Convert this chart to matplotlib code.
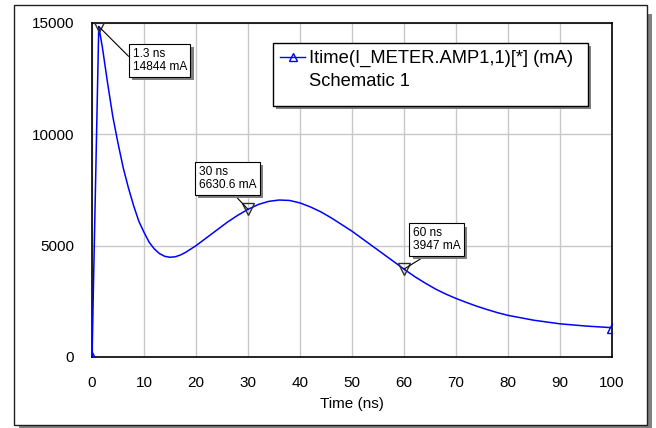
import matplotlib
matplotlib.use("Agg")
import matplotlib.pyplot as plt
import matplotlib.patheffects as pe
from matplotlib.patches import Rectangle
from matplotlib.lines import Line2D

plt.rcParams['font.family'] = ['Liberation Sans', 'DejaVu Sans']

# trace values (time in ns, current in mA)
time_ns = [0, 1.3, 2, 3, 4, 5, 6, 7, 8, 9, 10, 11, 12, 13, 14, 15, 16, 17, 18,
           20, 22, 24, 26, 28, 30, 32, 34, 36, 38, 40, 42, 44, 46, 48, 50,
           52, 54, 56, 58, 60, 62, 64, 66, 68, 70, 72, 74, 76, 78, 80,
           85, 90, 95, 100]
current_ma = [0, 14844, 13900, 12300, 10800, 9600, 8500, 7600, 6800, 6100,
              5600, 5150, 4850, 4640, 4520, 4480, 4500, 4580, 4700,
              5000, 5350, 5700, 6050, 6360, 6630.6, 6850, 6990, 7050, 7030,
              6920, 6740, 6520, 6250, 5950, 5650,
              5310, 4970, 4630, 4290, 3947, 3620, 3330, 3060, 2830, 2630,
              2450, 2280, 2130, 1990, 1870,
              1650, 1490, 1390, 1316]

cursor_t = [1.3, 30, 60]
cursor_v = [14844, 6630.6, 3947]
cursor_labels = ["1.3 ns\n14844 mA", "30 ns\n6630.6 mA", "60 ns\n3947 mA"]

x_ticks = list(range(0, 101, 10))
y_ticks = [0, 5000, 10000, 15000]

trace_label = "Itime(I_METER.AMP1,1)[*] (mA)"
schematic_label = "Schematic 1"

W, H = 656, 428
fig = plt.figure(figsize=(W / 100, H / 100), dpi=100)

# outer frame with drop shadow
fig.patches.append(Rectangle((19 / W, -0.01), 633 / W, 1 - 10 / H,
                             transform=fig.transFigure, facecolor='#808080',
                             edgecolor='none', zorder=0))
fig.patches.append(Rectangle((14 / W, 1 - 425 / H), 633 / W, 420 / H,
                             transform=fig.transFigure, facecolor='white',
                             edgecolor='#202020', lw=1, zorder=1))

ax = fig.add_axes([92 / W, 1 - 357 / H, 520 / W, 334 / H])
ax.set_zorder(2)
ax.set_xlim(0, 100)
ax.set_ylim(0, 15000)
ax.set_xticks(x_ticks)
ax.set_yticks(y_ticks)
ax.grid(True, color='#c8c8c8', lw=1)
ax.set_axisbelow(True)
ax.tick_params(length=0, labelsize=11, pad=14)
ax.tick_params(axis='y', pad=13)
for s in ax.spines.values():
    s.set_color('black')
    s.set_linewidth(1.2)
ax.set_xlabel("Time (ns)", fontsize=11, labelpad=5)

ax.plot(time_ns, current_ma, color='#0000ff', lw=1.1,
        marker='^', markevery=[0, len(time_ns) - 1], markersize=7,
        markerfacecolor='none', markeredgecolor='#0000ff', zorder=3)

ax.plot(cursor_t, cursor_v, ls='none', marker='v', markersize=8,
        markerfacecolor='none', markeredgecolor='#303030', mew=1, zorder=4)

offsets = [(24.3, -15.2), (-35.6, 31.5), (6.2, 30.6)]
relpos = [(0, 0.5), (0.56, 0), (0.4, 0)]
for t, v, lab, off, rp in zip(cursor_t, cursor_v, cursor_labels, offsets, relpos):
    ann = ax.annotate(lab, xy=(t, v), xytext=off, textcoords='offset points',
                      ha='left', va='top', fontsize=8.6, color='black',
                      linespacing=1.15,
                      bbox=dict(boxstyle='square,pad=0.3', fc='white',
                                ec='black', lw=0.8),
                      arrowprops=dict(arrowstyle='-', color='black', lw=0.8,
                                      shrinkA=0, shrinkB=0, relpos=rp),
                      zorder=6)
    ann.get_bbox_patch().set_path_effects([
        pe.SimplePatchShadow(offset=(2.5, -2.5), shadow_rgbFace='#808080',
                             alpha=1),
        pe.Normal()])

# legend box drawn by hand (handle sits on the first line only)
fig.patches.append(Rectangle((276 / W, 1 - 109 / H), 315 / W, 63 / H,
                             transform=fig.transFigure, facecolor='#808080',
                             edgecolor='none', zorder=5))
fig.patches.append(Rectangle((273 / W, 1 - 106 / H), 315 / W, 63 / H,
                             transform=fig.transFigure, facecolor='white',
                             edgecolor='black', lw=1, zorder=6))
fig.lines.append(Line2D([280 / W, 305 / W], [1 - 57 / H, 1 - 57 / H],
                        transform=fig.transFigure, color='#0000ff', lw=1,
                        zorder=7))
fig.lines.append(Line2D([292.5 / W], [1 - 57 / H], transform=fig.transFigure,
                        marker='^', markersize=6, markerfacecolor='none',
                        markeredgecolor='#0000ff', zorder=7))
fig.text(309 / W, 1 - 58 / H, trace_label, fontsize=13.2, va='center',
         ha='left', zorder=7)
fig.text(309 / W, 1 - 81 / H, schematic_label, fontsize=13.2, va='center',
         ha='left', zorder=7)

fig.savefig("out.png", dpi=100)
